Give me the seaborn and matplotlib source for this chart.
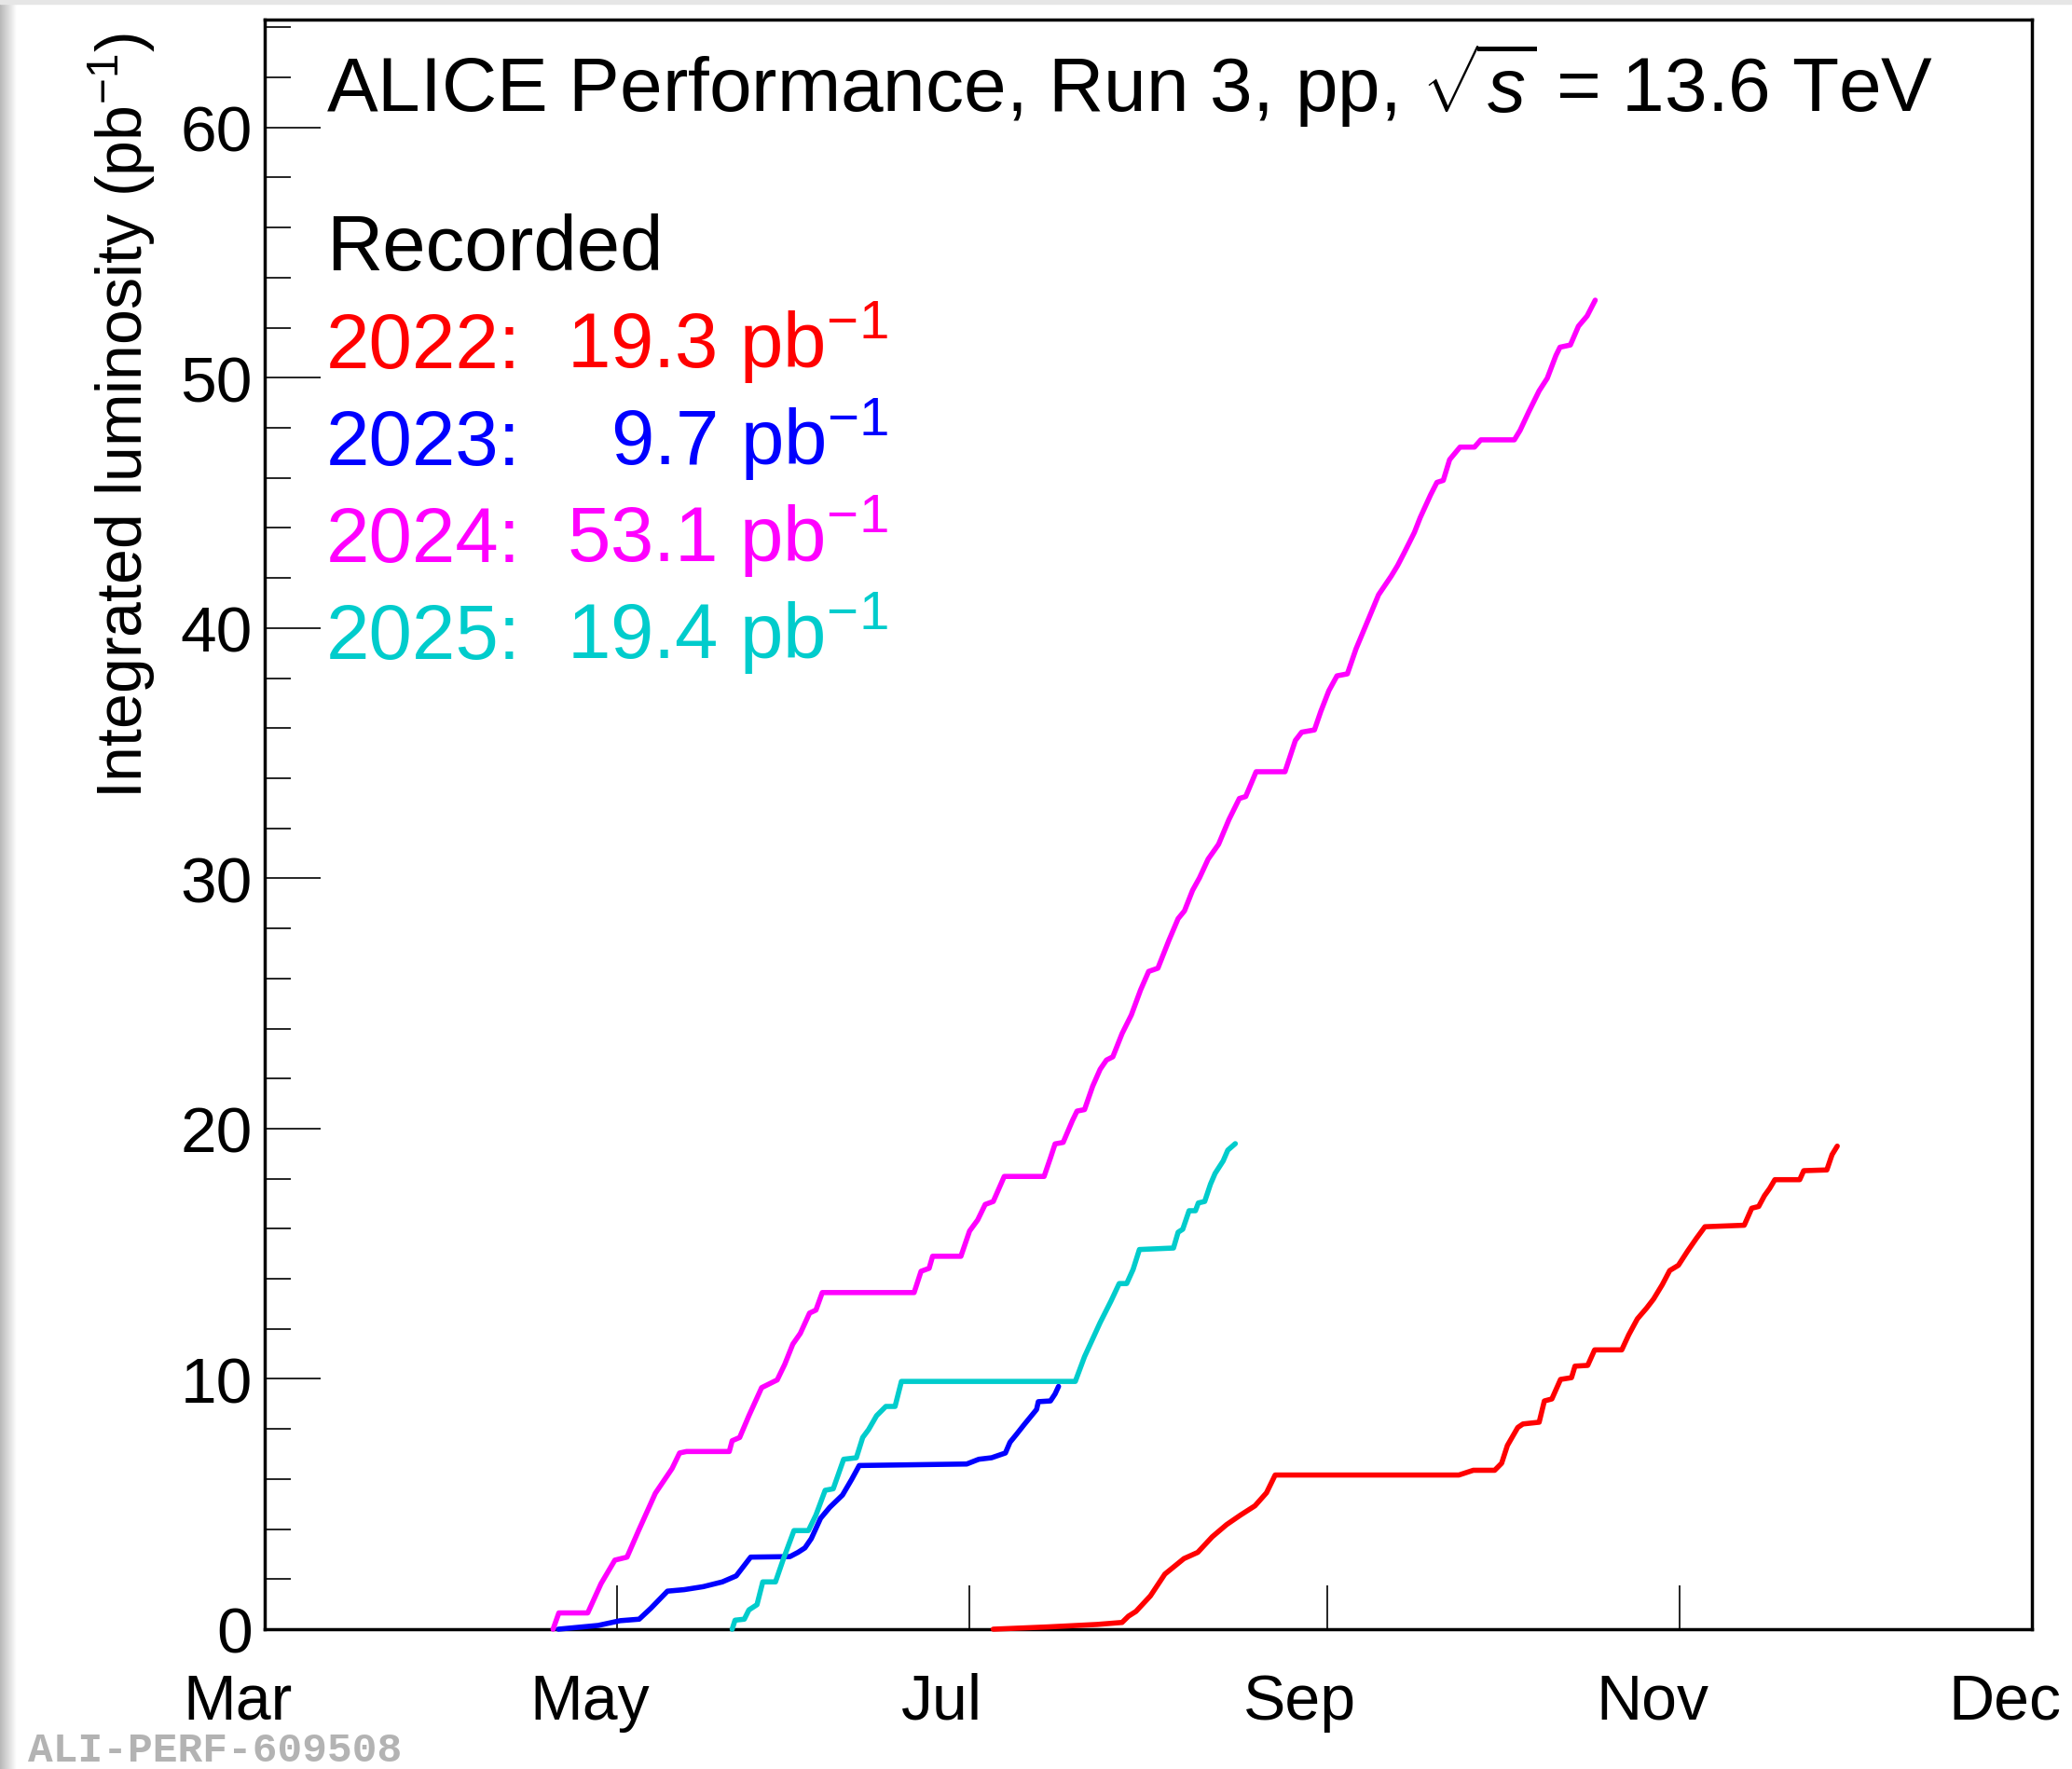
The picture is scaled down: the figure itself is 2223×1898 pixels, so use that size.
import numpy as np
import pandas as pd
import matplotlib
matplotlib.use("Agg")
import matplotlib.pyplot as plt
import matplotlib.transforms as mtransforms
from matplotlib.patches import Rectangle
from matplotlib.ticker import MultipleLocator
import seaborn as sns

# integrated luminosity (pb^-1) vs days counted from 1 March
days_2022 = [126.2, 135.6, 144.2, 148.5, 149.6, 150.9, 153.4, 155.9, 159.2, 161.6,
             164.1, 166.6, 169.0, 171.5, 173.5, 175.0, 206.8, 209.3, 213.0, 214.2,
             215.2, 217.0, 217.9, 220.7, 221.6, 222.9, 224.4, 226.3, 226.9, 229.1,
             230.3, 235.0, 236.2, 237.7, 239.3, 240.5, 242.0, 243.3, 244.8, 246.4,
             247.9, 249.4, 256.2, 257.5, 258.7, 259.7, 260.6, 261.5, 265.8, 266.5,
             270.5, 271.4, 272.3]
lumi_2022 = [0.0, 0.09, 0.19, 0.27, 0.52, 0.71, 1.33, 2.20, 2.82, 3.07,
             3.69, 4.18, 4.56, 4.93, 5.45, 6.16, 6.16, 6.35, 6.35, 6.63,
             7.34, 8.06, 8.20, 8.27, 9.12, 9.20, 9.98, 10.05, 10.51, 10.54,
             11.16, 11.16, 11.76, 12.40, 12.83, 13.19, 13.76, 14.33, 14.54, 15.11,
             15.61, 16.08, 16.14, 16.82, 16.89, 17.32, 17.61, 17.96, 17.96, 18.32,
             18.35, 18.96, 19.30]

days_2023 = [50.9, 57.8, 61.6, 64.9, 66.9, 69.8, 72.7, 76.0, 79.3, 81.7,
             84.2, 91.0, 92.4, 93.6, 94.7, 96.3, 97.9, 100.1, 101.7, 103.0,
             121.6, 123.7, 125.9, 128.3, 129.1, 130.2, 131.5, 132.6, 133.7, 134.0,
             136.1, 136.9, 137.5]
lumi_2023 = [0.0, 0.15, 0.34, 0.40, 0.83, 1.52, 1.58, 1.70, 1.89, 2.13,
             2.88, 2.90, 3.07, 3.25, 3.62, 4.43, 4.87, 5.36, 5.99, 6.54,
             6.60, 6.79, 6.85, 7.04, 7.47, 7.78, 8.16, 8.47, 8.78, 9.09,
             9.12, 9.40, 9.70]

days_2024 = [50.0, 51.0, 56.0, 58.3, 60.7, 62.8, 64.8, 67.7, 70.6, 71.9,
             73.1, 80.5, 81.0, 82.3, 83.9, 86.1, 88.8, 90.1, 91.5, 92.8,
             94.4, 95.5, 96.6, 112.5, 113.7, 115.1, 115.7, 120.6, 122.1, 123.5,
             124.8, 126.2, 128.1, 135.0, 136.1, 136.9, 138.3, 139.9, 140.7, 142.0,
             143.4, 144.7, 145.8, 146.9, 148.5, 150.1, 151.7, 153.1, 154.7, 156.6,
             158.2, 159.3, 160.7, 161.9, 163.4, 165.2, 167.0, 168.8, 169.9, 171.7,
             176.7, 178.5, 179.6, 181.8, 182.9, 184.3, 185.7, 187.5, 189.0, 191.1,
             192.9, 195.1, 196.2, 197.3, 199.1, 200.1, 201.9, 203.0, 204.1, 205.2,
             207.0, 209.5, 210.6, 216.4, 217.4, 218.9, 220.7, 222.1, 223.6, 224.3,
             226.1, 227.5, 229.0, 230.4]
lumi_2024 = [0.0, 0.65, 0.65, 1.82, 2.76, 2.88, 3.94, 5.43, 6.42, 7.04,
             7.10, 7.10, 7.53, 7.66, 8.53, 9.65, 9.96, 10.58, 11.39, 11.82,
             12.63, 12.75, 13.45, 13.45, 14.30, 14.42, 14.90, 14.90, 15.91, 16.35,
             16.97, 17.09, 18.09, 18.09, 18.83, 19.39, 19.45, 20.32, 20.70, 20.76,
             21.69, 22.37, 22.74, 22.87, 23.80, 24.54, 25.54, 26.28, 26.41, 27.52,
             28.39, 28.70, 29.52, 30.02, 30.77, 31.36, 32.35, 33.19, 33.27, 34.26,
             34.26, 35.51, 35.84, 35.93, 36.67, 37.50, 38.09, 38.17, 39.17, 40.33,
             41.33, 42.08, 42.50, 42.99, 43.82, 44.41, 45.32, 45.82, 45.90, 46.73,
             47.23, 47.23, 47.52, 47.52, 47.90, 48.64, 49.48, 49.98, 50.89, 51.22,
             51.31, 52.06, 52.47, 53.10]

days_2025 = [81.0, 81.5, 83.1, 83.9, 85.3, 86.3, 88.5, 89.8, 91.7, 94.2,
             95.5, 97.1, 98.5, 100.3, 102.5, 103.6, 104.6, 106.0, 107.6, 109.2,
             110.3, 140.4, 142.0, 144.7, 146.6, 148.0, 149.3, 150.4, 151.5, 157.4,
             158.2, 159.0, 160.1, 161.2, 161.7, 162.8, 163.8, 164.6, 166.0, 166.8,
             168.1]
lumi_2025 = [0.0, 0.36, 0.40, 0.77, 0.98, 1.89, 1.89, 2.76, 3.94, 3.94,
             4.56, 5.55, 5.61, 6.79, 6.85, 7.66, 7.97, 8.53, 8.90, 8.90,
             9.90, 9.90, 10.89, 12.25, 13.12, 13.81, 13.81, 14.37, 15.17, 15.23,
             15.86, 15.98, 16.72, 16.72, 17.03, 17.09, 17.78, 18.21, 18.71, 19.14,
             19.40]

years = ["2022", "2023", "2024", "2025"]
totals = ["19.3", "9.7", "53.1", "19.4"]
colors = ["#ff0000", "#0000ff", "#ff00ff", "#00cccc"]
month_starts = ["2001-03-01", "2001-05-01", "2001-07-01", "2001-09-01", "2001-11-01", "2002-01-01"]
month_labels = ["Mar", "May", "Jul", "Sep", "Nov", "Dec"]

series = [(days_2022, lumi_2022), (days_2023, lumi_2023),
          (days_2024, lumi_2024), (days_2025, lumi_2025)]
df = pd.concat([pd.DataFrame({"day": d, "lumi": l, "year": y})
                for (d, l), y in zip(series, years)], ignore_index=True)

sns.set_style("ticks")
plt.rcParams["font.family"] = ["Liberation Sans", "DejaVu Sans"]
plt.rcParams["mathtext.fontset"] = "custom"
plt.rcParams["mathtext.rm"] = "Liberation Sans"
plt.rcParams["mathtext.it"] = "Liberation Sans:italic"
plt.rcParams["mathtext.bf"] = "Liberation Sans:bold"
for k in ["text.color", "axes.labelcolor", "xtick.color", "ytick.color", "axes.edgecolor"]:
    plt.rcParams[k] = "black"

W, H = 2223, 1899
fig = plt.figure(figsize=(W / 100, H / 100), dpi=100)
fig.patch.set_facecolor("white")

# screenshot shadow on left/top edges
sax = fig.add_axes([0, 0, 18 / W, 1])
sax.imshow(np.linspace(0.72, 1.0, 60)[None, :], cmap="gray", vmin=0, vmax=1,
           aspect="auto", extent=[0, 1, 0, 1])
sax.axis("off")
fig.patches.append(Rectangle((0, 1 - 5 / H), 1, 5 / H, transform=fig.transFigure,
                             color="#e6e6e6", zorder=0))

ax = fig.add_axes([283.5 / W, 1 - 1749 / H, (2180 - 283.5) / W, (1749 - 21.5) / H])

sns.lineplot(data=df, x="day", y="lumi", hue="year", palette=dict(zip(years, colors)),
             sort=False, estimator=None, linewidth=4.0, legend=False, ax=ax,
             clip_on=False, zorder=3)

x0 = pd.Timestamp(month_starts[0])
xticks = [(pd.Timestamp(m) - x0).days for m in month_starts]
ax.set_xlim(xticks[0], xticks[-1])
ax.set_ylim(0, 64.33)
ax.set_xticks(xticks)
ax.set_xticklabels(month_labels)
ax.yaxis.set_major_locator(MultipleLocator(10))
ax.yaxis.set_minor_locator(MultipleLocator(2))
ax.set_xlabel("")
ax.set_ylabel("")

ax.tick_params(axis="x", which="major", direction="in", length=34, width=1.2,
               pad=33, labelsize=49, top=False, color="black", labelcolor="black")
ax.tick_params(axis="x", which="minor", length=0)
ax.tick_params(axis="y", which="major", direction="in", length=43, width=1.2,
               pad=9, labelsize=50, right=False, color="black", labelcolor="black")
ax.tick_params(axis="y", which="minor", direction="in", length=20, width=1.2,
               right=False, color="black")
for s in ax.spines.values():
    s.set_visible(True)
    s.set_linewidth(2.5)
    s.set_color("black")

shift = mtransforms.ScaledTranslation(-0.29, 0, fig.dpi_scale_trans)
for lab in ax.get_xticklabels():
    lab.set_transform(lab.get_transform() + shift)

fig.text(131 / W, 1 - 35 / H, r"Integrated luminosity (pb$^{-1}$)", rotation=90,
         fontsize=49, ha="center", va="top", color="black")

fig.text(350 / W, 1 - 120 / H, r"ALICE Performance, Run 3, pp, $\sqrt{s}$ = 13.6 TeV",
         fontsize=59, va="baseline", color="black")
fig.text(350 / W, 1 - 290 / H, "Recorded", fontsize=60, va="baseline", color="black")
for i, (y, tot, c) in enumerate(zip(years, totals, colors)):
    yb = 1 - (395 + i * 104) / H
    fig.text(350 / W, yb, y + ":", fontsize=60, color=c, va="baseline")
    fig.text(953 / W, yb, tot + " pb$^{-1}$", fontsize=60, color=c, va="baseline", ha="right")

fig.text(30 / W, 1 - 1890 / H, "ALI-PERF-609508", family="Liberation Mono",
         weight="bold", color="#b3b3b3", fontsize=32, va="baseline")

fig.savefig("out.png", dpi=100)
